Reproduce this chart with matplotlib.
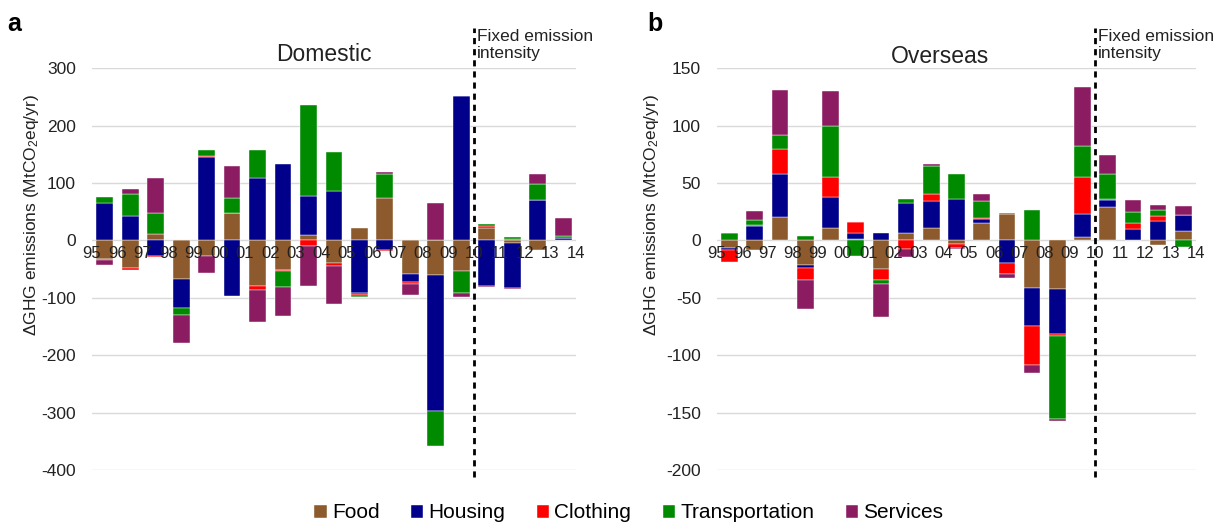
import numpy as np
import matplotlib
matplotlib.use('Agg')
import matplotlib.pyplot as plt
import matplotlib.transforms as mtransforms

plt.rcParams['font.family'] = ['Liberation Sans', 'DejaVu Sans']
plt.rcParams['mathtext.fontset'] = 'custom'
plt.rcParams['mathtext.rm'] = 'Liberation Sans'
plt.rcParams['mathtext.it'] = 'Liberation Sans:italic'
plt.rcParams['axes.unicode_minus'] = False

# year labels sit on the boundaries between the 19 year-on-year bars
year_labels = ['95', '96', '97', '98', '99', '00', '01', '02', '03', '04',
               '05', '06', '07', '08', '09', '10', '11', '12', '13', '14']

categories = ['Food', 'Housing', 'Clothing', 'Transportation', 'Services']
colors = ['#8C5A2D', '#00008B', '#FF0000', '#008A00', '#8B1C62']

# Domestic (MtCO2eq/yr)
dom_food = [-33, -49, 11.6, -66.5, -27, 48, -79, -51, 9, -39, 21.4, 73.5, -58, -60.7, -53.8, 21.4, -5, -17, 0]
dom_housing = [65, 43, -27, -51, 144.6, -96.6, 108.7, 132.4, 68, 86.8, -92.5, -17, -14.5, -237, 251.6, -79, -78, 70.6, 4.6]
dom_clothing = [-2, -3, -2, 0, 2, 0, -7.5, -1.5, -10, -6, -2, -1.5, -3, 0, 0, 3.5, 2, 0, 0]
dom_transport = [11, 38, 36.4, -12.7, 10, 26, 48.6, -29.5, 158, 66.5, -3.5, 42, 0, -61, -38.7, 4, 3, 27.7, 3]
dom_services = [-8, 9, 60.7, -48, -29, 55.5, -55, -49, -70, -66, -1, 3, -20, 64.8, -7, -2, -1.5, 17.4, 31.8]

# Overseas (MtCO2eq/yr)
ovs_food = [-6.4, -8.7, 20, -21.5, 10.8, 1, -24.8, 6.7, 10.8, -3.5, 15.4, 23.3, -41.4, -42.2, 3.2, 29.1, 0, -4.1, 8.2]
ovs_housing = [-2.3, 12.5, 37.6, -2.3, 27, 5.8, 6.7, 26.2, 23.6, 36.4, 2.9, -19.5, -33.5, -39, 19.5, 5.8, 9.6, 16.6, 13.9]
ovs_clothing = [-10, 1, 21.8, -10.8, 17.8, 9, -9.3, -7.3, 5.8, -2.9, 0.9, -9.6, -34, -2.3, 32.6, 1.5, 5.8, 4.7, 0]
ovs_transport = [6.7, 4.4, 12.5, 3.8, 44.3, -13.7, -3.5, 2.9, 24.8, 21.3, 15.2, 0.6, 26.2, -72.2, 26.5, 21.3, 9.6, 4.9, -5.8]
ovs_services = [0, 7.3, 39.3, -25, 30.6, 0, -29.4, -7.3, 1.2, -0.8, 6.4, -4.1, -6.7, -1.5, 51.5, 16.9, 10.2, 4.7, 7.9]

domestic = [dom_food, dom_housing, dom_clothing, dom_transport, dom_services]
overseas = [ovs_food, ovs_housing, ovs_clothing, ovs_transport, ovs_services]

fig = plt.figure(figsize=(12.21, 5.24), dpi=100)
ax_a = fig.add_axes([0.0753, 0.103, 0.3964, 0.767])
ax_b = fig.add_axes([0.5872, 0.103, 0.3923, 0.767])


def draw_panel(ax, series, ylim, step, title, title_x, title_y, letter, letter_x, ylabel_x):
    n = len(series[0])
    x = np.arange(n)
    pos = np.zeros(n)
    neg = np.zeros(n)
    for vals, name, col in zip(series, categories, colors):
        v = np.array(vals, dtype=float)
        bottom = np.where(v >= 0, pos, neg)
        ax.bar(x, v, width=0.66, bottom=bottom, color=col, label=name,
               edgecolor='white', linewidth=0.3, zorder=2)
        pos = pos + np.clip(v, 0, None)
        neg = neg + np.clip(v, None, 0)

    ax.set_xlim(-0.5, n - 0.5)
    ax.set_ylim(*ylim)
    ax.set_yticks(np.arange(ylim[0], ylim[1] + 1, step))
    ax.yaxis.grid(True, color='#D9D9D9', linewidth=1.0, zorder=0)
    ax.set_axisbelow(True)
    ax.set_xticks([])
    for s in ax.spines.values():
        s.set_visible(False)
    ax.tick_params(axis='y', length=0, labelsize=12.5, pad=11.5, labelcolor='#222222')

    # year labels just under the zero line
    for i, lab in enumerate(year_labels):
        ax.annotate(lab, (i - 0.5, 0), xytext=(0, -4), textcoords='offset points',
                    ha='center', va='top', fontsize=12, color='#222222', zorder=5)

    # fixed emission intensity divider
    trans = mtransforms.blended_transform_factory(ax.transData, ax.transAxes)
    ax.plot([14.5, 14.5], [-0.017, 1.10], transform=trans, color='black',
            linestyle=(0, (2.2, 1.8)), linewidth=2, clip_on=False, zorder=4)
    ax.text(14.62, 1.098, 'Fixed emission\nintensity', transform=trans,
            ha='left', va='top', fontsize=12.5, linespacing=1.2, color='#222222')

    ax.text(title_x, title_y, title, transform=ax.transAxes, ha='center',
            va='center', fontsize=16.5, color='#222222')
    fig.text(letter_x, 0.955, letter, fontsize=18, fontweight='bold', va='center')
    fig.text(ylabel_x, 0.59, r'$\Delta$GHG emissions (MtCO$_2$eq/yr)',
             rotation=90, ha='center', va='center', fontsize=12.5, color='#222222')


draw_panel(ax_a, domestic, (-400, 300), 100, 'Domestic', 0.48, 1.035, 'a', 0.006, 0.0258)
draw_panel(ax_b, overseas, (-200, 150), 50, 'Overseas', 0.465, 1.03, 'b', 0.530, 0.5336)

handles, labels = ax_a.get_legend_handles_labels()
fig.legend(handles, labels, loc='center', bbox_to_anchor=(0.515, 0.021), ncol=5,
           frameon=False, fontsize=15, handlelength=0.6, handleheight=0.6,
           handletextpad=0.25, columnspacing=1.5, borderaxespad=0)

fig.savefig('out.png', dpi=100)
